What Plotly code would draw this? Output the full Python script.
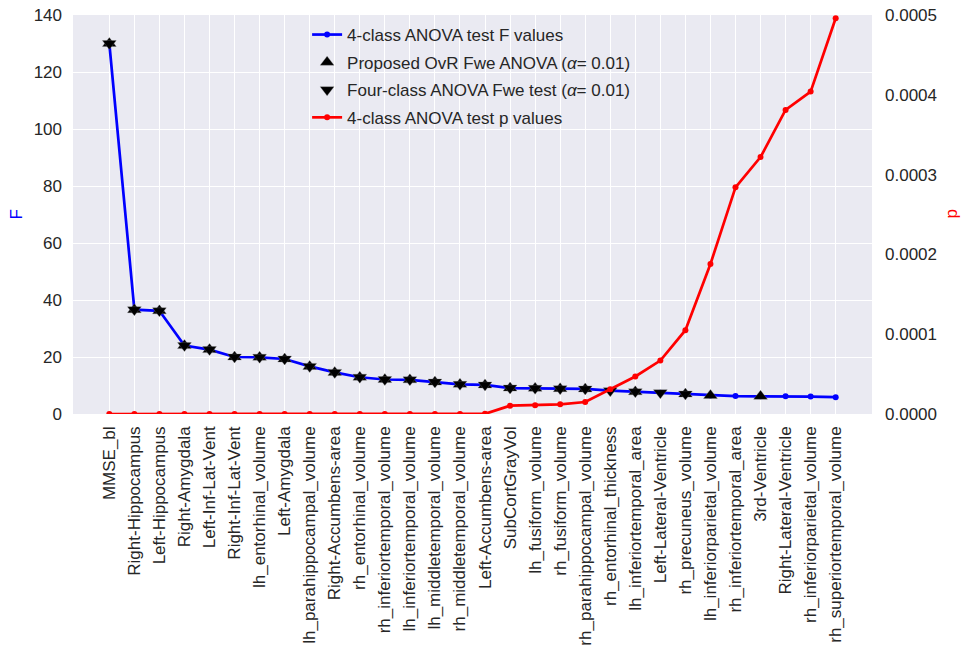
import plotly.graph_objects as go

categories = [
    "MMSE_bl", "Right-Hippocampus", "Left-Hippocampus", "Right-Amygdala",
    "Left-Inf-Lat-Vent", "Right-Inf-Lat-Vent", "lh_entorhinal_volume", "Left-Amygdala",
    "lh_parahippocampal_volume", "Right-Accumbens-area", "rh_entorhinal_volume",
    "rh_inferiortemporal_volume", "lh_inferiortemporal_volume", "lh_middletemporal_volume",
    "rh_middletemporal_volume", "Left-Accumbens-area", "SubCortGrayVol",
    "lh_fusiform_volume", "rh_fusiform_volume", "rh_parahippocampal_volume",
    "rh_entorhinal_thickness", "lh_inferiortemporal_area", "Left-Lateral-Ventricle",
    "rh_precuneus_volume", "lh_inferiorparietal_volume", "rh_inferiortemporal_area",
    "3rd-Ventricle", "Right-Lateral-Ventricle", "rh_inferiorparietal_volume",
    "rh_superiortemporal_volume",
]

f_values = [130.0, 36.6, 36.2, 24.0, 22.6, 20.0, 19.9, 19.3, 16.7, 14.6, 12.9,
            12.1, 12.0, 11.2, 10.4, 10.2, 9.1, 9.0, 8.9, 8.8, 8.2, 7.8, 7.5, 7.0,
            6.5, 6.3, 6.2, 6.2, 6.1, 5.9]

p_values = [0.0, 0.0, 0.0, 0.0, 0.0, 0.0, 0.0, 0.0, 0.0, 0.0, 0.0, 0.0, 0.0, 0.0,
            0.08e-6, 0.16e-6, 1.04e-5, 1.09e-5, 1.21e-5, 1.50e-5, 3.1e-5, 4.7e-5,
            6.7e-5, 1.05e-4, 1.88e-4, 2.84e-4, 3.22e-4, 3.81e-4, 4.04e-4, 4.96e-4]

# selected features (indices into categories)
ovr_selected = list(range(0, 20)) + [21, 23, 24, 26]
four_class_selected = list(range(0, 20)) + [20, 21, 22, 23]

f_ticks = [0, 20, 40, 60, 80, 100, 120, 140]
p_ticks = [0, 0.0001, 0.0002, 0.0003, 0.0004, 0.0005]

tick_color = "#262626"
font_family = "Liberation Sans, Arial, sans-serif"
fs = 17

W, H = 961, 653
ML, MR, MT, MB = 73, 89, 15, 239
PW = W - ML - MR

fig = go.Figure()

fig.add_trace(go.Scatter(
    x=categories, y=f_values, mode="lines+markers",
    name="4-class ANOVA test F values", legendgroup="a",
    line=dict(color="#0000ff", width=2.7),
    marker=dict(color="#0000ff", size=6),
    yaxis="y",
))
fig.add_trace(go.Scatter(
    x=[categories[i] for i in ovr_selected], y=[f_values[i] for i in ovr_selected],
    mode="markers", name="Proposed OvR Fwe ANOVA (<i>α</i>= 0.01)", legendgroup="b",
    marker=dict(symbol="triangle-up", color="black", size=12,
                line=dict(color="rgba(120,120,120,0.6)", width=0.5)),
    yaxis="y",
))
fig.add_trace(go.Scatter(
    x=[categories[i] for i in four_class_selected], y=[f_values[i] for i in four_class_selected],
    mode="markers", name="Four-class ANOVA Fwe test (<i>α</i>= 0.01)", legendgroup="c",
    marker=dict(symbol="triangle-down", color="black", size=12,
                line=dict(color="rgba(120,120,120,0.6)", width=0.5)),
    yaxis="y",
))
fig.add_trace(go.Scatter(
    x=categories, y=p_values, mode="lines+markers",
    name="4-class ANOVA test p values", legendgroup="d",
    line=dict(color="#ff0000", width=2.7),
    marker=dict(color="#ff0000", size=6),
    yaxis="y2",
))

fig.update_layout(
    width=W, height=H,
    margin=dict(l=ML, r=MR, t=MT, b=MB, autoexpand=False),
    paper_bgcolor="white",
    plot_bgcolor="#EAEAF2",
    font=dict(family=font_family, size=fs, color=tick_color),
    showlegend=True,
    legend=dict(
        x=0.293, y=0.995, xanchor="left", yanchor="top",
        bgcolor="rgba(0,0,0,0)", borderwidth=0,
        font=dict(size=fs, color=tick_color),
        tracegroupgap=2.5,
    ),
    xaxis=dict(
        type="category",
        range=[-1.45, 30.45],
        tickangle=-90,
        automargin=False,
        showgrid=True, gridcolor="white", gridwidth=1.3,
        zeroline=False, showline=False,
        ticks="", ticklabelstandoff=8,
        tickfont=dict(size=fs, color=tick_color),
    ),
    yaxis=dict(
        range=[0, 140],
        tickvals=f_ticks,
        automargin=False,
        showgrid=True, gridcolor="white", gridwidth=1.3,
        zeroline=False, showline=False,
        ticks="", ticklabelstandoff=10,
        ticklabeloverflow="allow",
        tickfont=dict(size=fs, color=tick_color),
    ),
    yaxis2=dict(
        overlaying="y", side="right",
        range=[0, 0.0005],
        tickvals=p_ticks,
        tickformat=".4f",
        automargin=False,
        showgrid=False, zeroline=False, showline=False,
        ticks="", ticklabelstandoff=12,
        ticklabeloverflow="allow",
        tickfont=dict(size=fs, color=tick_color),
    ),
    annotations=[
        dict(text="F", xref="paper", yref="paper", x=(16 - ML) / PW, y=0.5,
             textangle=-90, showarrow=False, xanchor="center", yanchor="middle",
             font=dict(color="#0000ff", size=fs)),
        dict(text="p", xref="paper", yref="paper", x=(951 - ML) / PW, y=0.5,
             textangle=-90, showarrow=False, xanchor="center", yanchor="middle",
             font=dict(color="#ff0000", size=fs)),
    ],
)

fig.write_html(
    "out.html",
    config={"displayModeBar": False},
    post_script="document.body.style.margin='0';document.body.style.overflow='hidden';",
)
